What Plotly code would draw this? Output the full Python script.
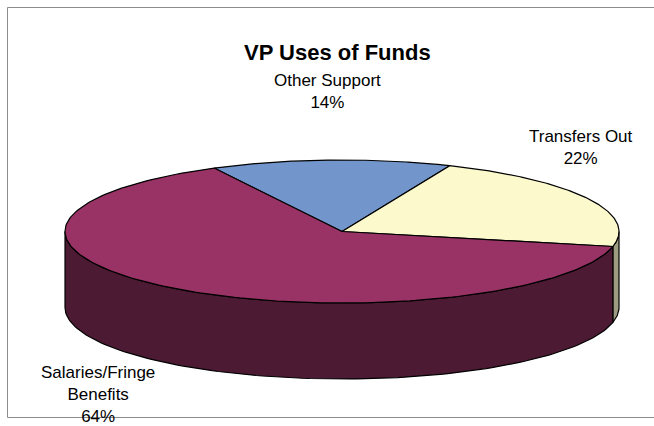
import numpy as np
import plotly.graph_objects as go

# Data
categories = ["Other Support", "Transfers Out", "Salaries/Fringe<br>Benefits"]
values = [14, 22, 64]
top_colors = ["#7295CB", "#FCF9CD", "#993366"]
side_colors = ["#39496A", "#9E9C80", "#4C1A33"]

# Pie geometry (screen pixels; y grows downward)
W, H = 654, 426
CX, CY = 342.0, 231.5
RX, RY = 277.0, 71.5
DEPTH = 76.0
START = 117.5  # math angle (deg) where the first slice starts; slices run clockwise

total = float(sum(values))
spans = [v / total * 360.0 for v in values]


def rim(theta_deg, dy=0.0):
    t = np.radians(theta_deg)
    return CX + RX * np.cos(t), CY - RY * np.sin(t) + dy


fig = go.Figure()

# slice angle ranges (start > end, clockwise)
ranges = []
a = START
for s in spans:
    ranges.append((a, a - s))
    a -= s

# front side walls
for (a0, a1), col in zip(ranges, side_colors):
    for k in (-1, 0, 1):
        lo, hi = -180 + 360 * k, 360 * k
        s_hi, s_lo = min(a0, hi), max(a1, lo)
        if s_hi <= s_lo:
            continue
        th = np.linspace(s_hi, s_lo, 120)
        xt, yt = rim(th)
        xb, yb = rim(th[::-1], DEPTH)
        xs = np.concatenate([xt, xb, xt[:1]])
        ys = np.concatenate([yt, yb, yt[:1]])
        fig.add_trace(go.Scatter(x=xs, y=ys, mode="lines", fill="toself",
                                 fillcolor=col, line=dict(color="black", width=1.2),
                                 hoverinfo="skip", showlegend=False))

# top faces
for (a0, a1), col in zip(ranges, top_colors):
    th = np.linspace(a0, a1, 200)
    xr, yr = rim(th)
    xs = np.concatenate([[CX], xr, [CX]])
    ys = np.concatenate([[CY], yr, [CY]])
    fig.add_trace(go.Scatter(x=xs, y=ys, mode="lines", fill="toself",
                             fillcolor=col, line=dict(color="black", width=1.2),
                             hoverinfo="skip", showlegend=False))

# data labels
label_pos = [(327, 91), (581, 147), (98, 394)]
for name, v, (lx, ly) in zip(categories, values, label_pos):
    pct = round(v / total * 100)
    fig.add_annotation(x=lx, y=ly, xref="x", yref="y", showarrow=False,
                       text=f"{name}<br>{pct}%", align="center",
                       xanchor="center", yanchor="middle",
                       font=dict(family="Liberation Sans, Arial, sans-serif", size=17, color="black"))

# title
fig.add_annotation(x=337, y=52, xref="x", yref="y", showarrow=False,
                   text="<b>VP Uses of Funds</b>", xanchor="center", yanchor="middle",
                   font=dict(family="Liberation Sans, Arial, sans-serif", size=22, color="black"))

# chart area border
fig.add_shape(type="rect", x0=7.5, y0=7.5, x1=W + 5, y1=417.5, xref="x", yref="y",
              line=dict(color="#8C8C8C", width=1), layer="below")

fig.update_xaxes(range=[0, W], visible=False, fixedrange=True)
fig.update_yaxes(range=[H, 0], visible=False, fixedrange=True)
fig.update_layout(width=W, height=H, autosize=False,
                  margin=dict(l=0, r=0, t=0, b=0),
                  paper_bgcolor="white", plot_bgcolor="white")

fig.write_html("out.html")
